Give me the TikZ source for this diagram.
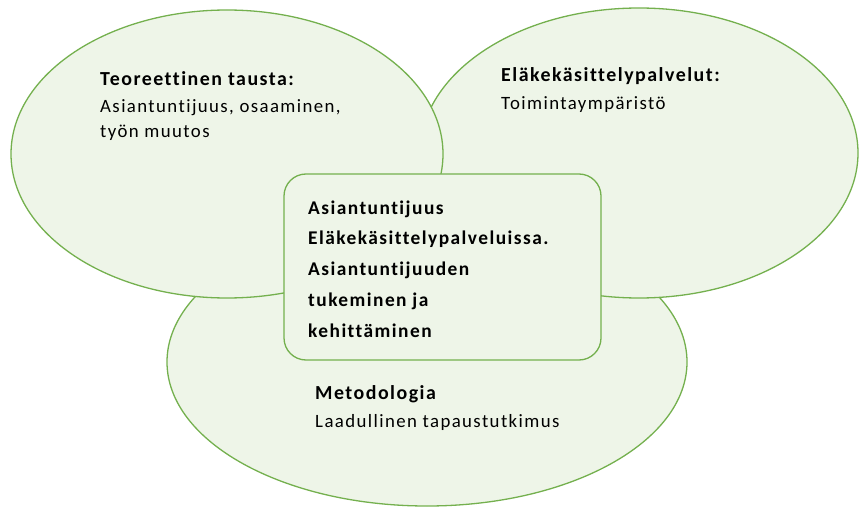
\documentclass[tikz,border=0pt]{standalone}
\usepackage{fontspec}
\setmainfont{Carlito}[LetterSpace=7.5, Ligatures={NoCommon}]
\usetikzlibrary{shapes.geometric}
\definecolor{gfill}{HTML}{EEF5E8}
\definecolor{gline}{HTML}{74B04E}
\tikzset{
  blob/.style={ellipse, draw=gline, fill=gfill, line width=1.3pt, inner sep=0pt},
  centerbox/.style={rectangle, rounded corners=22pt, draw=gline, fill=gfill, line width=1.3pt, inner sep=0pt},
  head/.style={anchor=base west, inner sep=0pt, font=\fontsize{19.9}{24}\selectfont\bfseries},
  body/.style={anchor=base west, inner sep=0pt, align=left, font=\fontsize{18.8}{25.5}\selectfont},
  ctext/.style={anchor=base west, inner sep=0pt, align=left, font=\fontsize{19.4}{30.75}\selectfont\bfseries}
}
\begin{document}
\begin{tikzpicture}[x=1pt,y=-1pt]
\useasboundingbox (0,0) rectangle (860,508);
\node[blob, minimum width=520pt, minimum height=288pt] (bot) at (427,362) {};
\node[blob, minimum width=438pt, minimum height=290pt] (right) at (639,153) {};
\node[blob, minimum width=432pt, minimum height=288pt] (left) at (227,154) {};
\node[centerbox, minimum width=317pt, minimum height=186pt] (mid) at (442.5,267) {};
\node[head] (lh) at (100,86) {Teoreettinen tausta:};
\node[body] (lb) at (100,138) {Asiantuntijuus, osaaminen,\\työn muutos};
\node[head] (rh) at (501,82) {Eläkekäsittelypalvelut:};
\node[body] (rb) at (501,110) {Toimintaympäristö};
\node[head] (bh) at (315,399) {Metodologia};
\node[body] (bb) at (315,427) {Laadullinen tapaustutkimus};
\node[ctext] (mt) at (308,337) {Asiantuntijuus\\Eläkekäsittelypalveluissa.\\Asiantuntijuuden\\tukeminen ja\\kehittäminen};
\end{tikzpicture}
\end{document}
